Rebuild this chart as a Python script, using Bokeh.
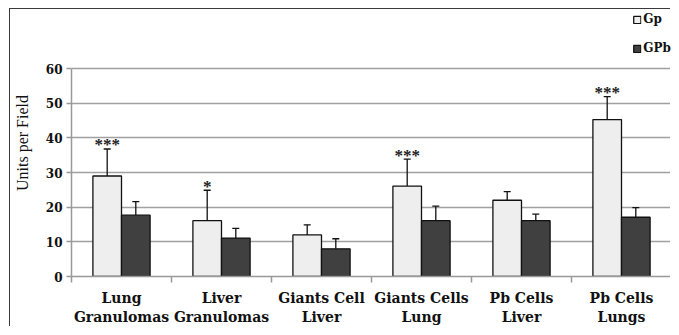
import numpy as np
from bokeh.plotting import figure
from bokeh.models import (ColumnDataSource, Range1d, FixedTicker, Whisker, TeeHead,
                          Legend, LegendItem)
from bokeh.embed import file_html
from bokeh.resources import INLINE
from bokeh.core.properties import value

categories = ["Lung\nGranulomas", "Liver\nGranulomas", "Giants Cell\nLiver",
              "Giants Cells\nLung", "Pb Cells\nLiver", "Pb Cells\nLungs"]
gp = [29.0, 16.1, 12.0, 26.1, 22.0, 45.3]
gp_upper = [36.8, 24.9, 14.9, 33.9, 24.5, 51.9]
gpb = [17.7, 11.1, 8.0, 16.1, 16.1, 17.1]
gpb_upper = [21.6, 13.9, 10.9, 20.3, 18.0, 19.9]
stars = ["***", "*", "", "***", "", "***"]
y_ticks = [0, 10, 20, 30, 40, 50, 60]

SERIF = "Liberation Serif"
BOLD_SERIF = "DejaVu Serif"
n = len(categories)
centers = np.arange(n) + 0.5
bw = 0.286
y_top = 77.06   # headroom above 60 that holds the legend

src = ColumnDataSource(dict(
    xg=centers - bw / 2, xb=centers + bw / 2,
    gp=gp, gpu=gp_upper, gpb=gpb, gpbu=gpb_upper, stars=stars,
))

p = figure(width=661, height=318, output_backend="svg", toolbar_location=None,
           x_range=Range1d(0, n), y_range=Range1d(0, y_top),
           min_border_left=60, min_border_right=0, min_border_top=0,
           min_border_bottom=45)
p.outline_line_color = None
p.background_fill_color = "white"
p.border_fill_color = "white"
p.styles = {"border-left": "1.5px solid #3a3a3a", "border-top": "1.5px solid #3a3a3a",
            "margin-left": "9px", "margin-top": "8px"}

r_gp = p.vbar(x="xg", top="gp", bottom=0, width=bw, source=src,
              fill_color="#eeeeee", line_color="#111111", line_width=1.3)
r_gpb = p.vbar(x="xb", top="gpb", bottom=0, width=bw, source=src,
               fill_color="#404040", line_color="#111111", line_width=1.3)

for xf, lo, hi in (("xg", "gp", "gpu"), ("xb", "gpb", "gpbu")):
    w = Whisker(base=xf, lower=lo, upper=hi, source=src, dimension="height",
                lower_head=None,
                upper_head=TeeHead(size=7, line_color="#111111", line_width=1.3),
                line_color="#111111", line_width=1.3, level="glyph")
    p.add_layout(w)

p.text(x="xg", y="gpu", text="stars", source=src, text_align="center",
       text_baseline="middle", y_offset=-4, text_font=value(SERIF),
       text_font_size="17px", text_font_style="bold", text_color="#222222")

# axes
p.yaxis.ticker = FixedTicker(ticks=y_ticks)
p.yaxis.bounds = (0, 60)
p.yaxis.axis_line_color = "#999999"
p.yaxis.axis_line_width = 1.5
p.yaxis.major_tick_line_color = "#999999"
p.yaxis.major_tick_line_width = 1.5
p.yaxis.major_tick_in = 0
p.yaxis.major_tick_out = 5
p.yaxis.minor_tick_line_color = None
p.yaxis.major_label_text_font = BOLD_SERIF
p.yaxis.major_label_text_font_style = "bold"
p.yaxis.major_label_text_font_size = "12px"
p.yaxis.major_label_text_color = "#111111"
p.yaxis.major_label_standoff = 4
p.yaxis.axis_label = "Units per Field"
p.yaxis.axis_label_text_font = SERIF
p.yaxis.axis_label_text_font_style = "normal"
p.yaxis.axis_label_text_font_size = "16px"
p.yaxis.axis_label_text_color = "#111111"
p.yaxis.axis_label_standoff = 12

p.xaxis.ticker = FixedTicker(ticks=list(centers), minor_ticks=list(range(n + 1)))
p.xaxis.major_label_overrides = {float(c): lab for c, lab in zip(centers, categories)}
p.xaxis.axis_line_color = "#999999"
p.xaxis.axis_line_width = 1.5
p.xaxis.major_tick_line_color = None
p.xaxis.minor_tick_line_color = "#999999"
p.xaxis.minor_tick_line_width = 1.5
p.xaxis.minor_tick_in = 0
p.xaxis.minor_tick_out = 6
p.xaxis.major_label_text_font = BOLD_SERIF
p.xaxis.major_label_text_font_style = "bold"
p.xaxis.major_label_text_font_size = "14px"
p.xaxis.major_label_text_color = "#111111"
p.xaxis.major_label_standoff = 7

p.xgrid.grid_line_color = None
p.ygrid.grid_line_color = "#a0a0a0"
p.ygrid.grid_line_width = 1.5

legend = Legend(items=[LegendItem(label="Gp", renderers=[r_gp]),
                       LegendItem(label="GPb", renderers=[r_gpb])],
                location="top_right", orientation="vertical",
                glyph_width=9, glyph_height=9, label_height=20, spacing=9,
                padding=3, margin=0, border_line_color=None,
                background_fill_alpha=0, label_text_font=BOLD_SERIF,
                label_text_font_style="bold", label_text_font_size="12px",
                label_text_color="#111111", label_standoff=2)
p.add_layout(legend)

open("out.html", "w").write(file_html(p, INLINE))
